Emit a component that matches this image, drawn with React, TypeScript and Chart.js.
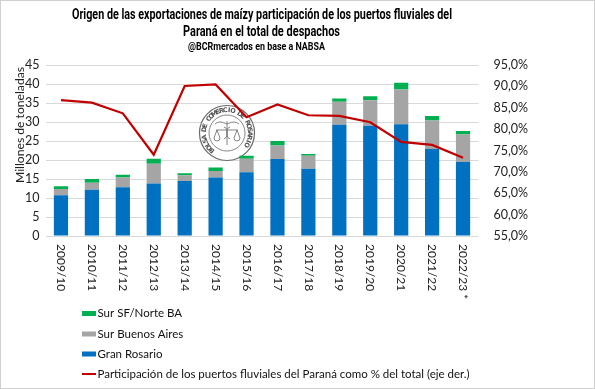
import React, { useEffect, useRef } from "react";
import { Chart, registerables } from "chart.js";

Chart.register(...registerables);

const categories = [
  "2009/10", "2010/11", "2011/12", "2012/13", "2013/14", "2014/15", "2015/16",
  "2016/17", "2017/18", "2018/19", "2019/20", "2020/21", "2021/22", "2022/23 *",
];
const granRosario = [10.75, 12.15, 12.85, 13.8, 14.5, 15.4, 16.8, 20.25, 17.7, 29.3, 29.0, 29.4, 22.9, 19.5];
const surBuenosAires = [1.65, 1.85, 2.55, 5.2, 1.5, 1.7, 3.5, 3.55, 3.4, 6.0, 6.75, 9.15, 7.5, 7.2];
const surSFNorteBA = [0.7, 1.0, 0.7, 1.3, 0.5, 0.9, 0.8, 1.2, 0.5, 0.9, 1.05, 1.75, 1.2, 0.9];
const participacion = [86.8, 86.2, 83.7, 74.0, 90.1, 90.45, 82.8, 85.75, 83.25, 83.1, 81.6, 77.0, 76.3, 73.3];

const titleLines = [
  "Origen de las exportaciones de maízy participación de los puertos fluviales del",
  "Paraná en el total de despachos",
];
const subtitle = "@BCRmercados en base a NABSA";
const yTitle = "Millones de toneladas";
const sealText = "BOLSA DE COMERCIO DE ROSARIO";
const legendItems = [
  { label: "Sur SF/Norte BA", color: "#00B050", type: "box" },
  { label: "Sur Buenos Aires", color: "#A5A5A5", type: "box" },
  { label: "Gran Rosario", color: "#0070C0", type: "box" },
  { label: "Participación de los puertos fluviales del Paraná como % del total (eje der.)", color: "#C00000", type: "line" },
];

const FONT = "Lato, 'Open Sans', sans-serif";

function fitText(ctx: CanvasRenderingContext2D, text: string, cx: number, cy: number, width: number) {
  const w = ctx.measureText(text).width;
  ctx.save();
  ctx.translate(cx, cy);
  ctx.scale(width / w, 1);
  ctx.textAlign = "center";
  ctx.textBaseline = "middle";
  ctx.fillText(text, 0, 0);
  ctx.restore();
}

function drawSeal(ctx: CanvasRenderingContext2D, cx: number, cy: number) {
  ctx.save();
  ctx.fillStyle = "#fff";
  ctx.beginPath();
  ctx.arc(cx, cy, 28, 0, Math.PI * 2);
  ctx.fill();
  ctx.strokeStyle = "#6a6a6a";
  ctx.lineWidth = 1.2;
  ctx.beginPath();
  ctx.arc(cx, cy, 27.5, 0, Math.PI * 2);
  ctx.stroke();
  ctx.lineWidth = 0.8;
  ctx.beginPath();
  ctx.arc(cx, cy, 18, 0, Math.PI * 2);
  ctx.stroke();
  // arc text
  ctx.fillStyle = "#555";
  ctx.font = "bold 6.5px 'DejaVu Sans', sans-serif";
  ctx.textAlign = "center";
  ctx.textBaseline = "middle";
  const start = (-139 * Math.PI) / 180;
  const end = (121 * Math.PI) / 180;
  const n = sealText.length;
  for (let i = 0; i < n; i++) {
    const a = start + ((end - start) * i) / (n - 1);
    ctx.save();
    ctx.translate(cx + Math.sin(a) * 22.7, cy - Math.cos(a) * 22.7);
    ctx.rotate(a);
    ctx.fillText(sealText[i], 0, 0);
    ctx.restore();
  }
  // emblem: caduceus + scales
  ctx.strokeStyle = "#777";
  ctx.lineWidth = 0.9;
  ctx.beginPath();
  ctx.moveTo(cx, cy - 12);
  ctx.lineTo(cx, cy + 12);
  ctx.moveTo(cx - 11, cy - 3);
  ctx.lineTo(cx + 11, cy - 3);
  ctx.moveTo(cx - 10, cy - 3);
  ctx.lineTo(cx - 13, cy + 5);
  ctx.moveTo(cx - 10, cy - 3);
  ctx.lineTo(cx - 7, cy + 5);
  ctx.moveTo(cx + 10, cy - 3);
  ctx.lineTo(cx + 7, cy + 5);
  ctx.moveTo(cx + 10, cy - 3);
  ctx.lineTo(cx + 13, cy + 5);
  ctx.stroke();
  ctx.beginPath();
  ctx.arc(cx - 10, cy + 5, 3, 0, Math.PI);
  ctx.moveTo(cx + 13, cy + 5);
  ctx.arc(cx + 10, cy + 5, 3, 0, Math.PI);
  ctx.stroke();
  // wings
  ctx.beginPath();
  ctx.moveTo(cx, cy - 9);
  ctx.quadraticCurveTo(cx - 8, cy - 13, cx - 12, cy - 9);
  ctx.moveTo(cx, cy - 9);
  ctx.quadraticCurveTo(cx + 8, cy - 13, cx + 12, cy - 9);
  ctx.stroke();
  // snakes
  ctx.beginPath();
  ctx.moveTo(cx - 3, cy - 6);
  ctx.bezierCurveTo(cx + 4, cy - 3, cx - 4, cy + 2, cx + 3, cy + 6);
  ctx.moveTo(cx + 3, cy - 6);
  ctx.bezierCurveTo(cx - 4, cy - 3, cx + 4, cy + 2, cx - 3, cy + 6);
  ctx.stroke();
  ctx.restore();
}

const overlayPlugin = {
  id: "overlay",
  beforeDatasetsDraw(chart: any) {
    drawSeal(chart.ctx, 227, 133);
  },
  afterDraw(chart: any) {
    const ctx: CanvasRenderingContext2D = chart.ctx;
    const xs = chart.scales.x;
    ctx.save();
    // x labels rotated clockwise
    ctx.fillStyle = "#222";
    ctx.font = `12px ${FONT}`;
    categories.forEach((c, i) => {
      const px = xs.getPixelForValue(i);
      ctx.save();
      ctx.translate(px, 244);
      ctx.rotate(Math.PI / 2);
      ctx.textAlign = "left";
      ctx.textBaseline = "middle";
      ctx.fillText(c, 0, 0);
      ctx.restore();
    });
    // y axis title
    ctx.save();
    ctx.translate(20, 125);
    ctx.rotate(-Math.PI / 2);
    ctx.textAlign = "center";
    ctx.textBaseline = "middle";
    ctx.font = `11.5px ${FONT}`;
    fitText(ctx, yTitle, 0, 0, 116);
    ctx.restore();
    // titles
    ctx.fillStyle = "#000";
    ctx.font = "bold 14px Roboto, sans-serif";
    fitText(ctx, titleLines[0], 262, 15.5, 380);
    fitText(ctx, titleLines[1], 261.5, 32.5, 157);
    ctx.font = "bold 10.5px Roboto, sans-serif";
    fitText(ctx, subtitle, 256.5, 47, 137);
    // legend
    ctx.font = `11.5px ${FONT}`;
    ctx.textAlign = "left";
    ctx.textBaseline = "middle";
    const ys = [313.5, 334, 354, 374];
    legendItems.forEach((it, i) => {
      const y = ys[i];
      ctx.fillStyle = it.color;
      if (it.type === "box") {
        ctx.fillRect(82, y - 2.5, 14, 5);
      } else {
        ctx.fillRect(82, y - 1, 14, 2);
      }
      ctx.fillStyle = "#111";
      ctx.fillText(it.label, 97.5, y);
    });
    // border
    ctx.strokeStyle = "#d0d0d0";
    ctx.lineWidth = 1;
    ctx.strokeRect(0.5, 0.5, 594, 388);
    ctx.restore();
  },
};

export default function App() {
  const ref = useRef<HTMLCanvasElement>(null);
  useEffect(() => {
    document.body.style.margin = "0";
    const canvas = ref.current!;
    const chart = new Chart(canvas, {
      type: "bar",
      data: {
        labels: categories,
        datasets: [
          {
            type: "line",
            label: legendItems[3].label,
            data: participacion,
            yAxisID: "y1",
            borderColor: "#C00000",
            backgroundColor: "#C00000",
            borderWidth: 2.2,
            pointRadius: 0,
            tension: 0,
            order: 0,
          } as any,
          {
            label: "Gran Rosario",
            data: granRosario,
            backgroundColor: "#0070C0",
            yAxisID: "y",
            order: 1,
          },
          {
            label: "Sur Buenos Aires",
            data: surBuenosAires,
            backgroundColor: "#A5A5A5",
            yAxisID: "y",
            order: 1,
          },
          {
            label: "Sur SF/Norte BA",
            data: surSFNorteBA,
            backgroundColor: "#00B050",
            yAxisID: "y",
            order: 1,
          },
        ],
      },
      options: {
        responsive: false,
        maintainAspectRatio: false,
        animation: false,
        barPercentage: 0.46,
        categoryPercentage: 1,
        layout: { padding: { top: 65, left: 0, right: 0, bottom: 0 } },
        plugins: {
          legend: { display: false },
          title: { display: false },
          tooltip: { enabled: false },
        },
        scales: {
          x: {
            stacked: true,
            grid: { display: false },
            border: { display: false },
            ticks: { display: false },
            afterFit(s: any) {
              s.height = 153;
            },
          },
          y: {
            stacked: true,
            min: 0,
            max: 45,
            ticks: { stepSize: 5, color: "#222", padding: 6, font: { family: FONT, size: 12.5 } },
            grid: { color: "#d9d9d9", drawTicks: false },
            border: { display: false },
            afterFit(s: any) {
              s.width = 45.5;
            },
          },
          y1: {
            position: "right",
            min: 55,
            max: 95,
            ticks: {
              stepSize: 5,
              color: "#222",
              padding: 7,
              font: { family: FONT, size: 12.5 },
              callback: (v: any) => Number(v).toFixed(1).replace(".", ",") + "%",
            },
            grid: { display: false },
            border: { display: false },
            afterFit(s: any) {
              s.width = 116.5;
            },
          },
        },
      } as any,
      plugins: [overlayPlugin],
    });
    return () => chart.destroy();
  }, []);
  return (
    <div style={{ width: 595, height: 389, background: "#fff" }}>
      <canvas ref={ref} width={595} height={389} style={{ display: "block" }} />
    </div>
  );
}
